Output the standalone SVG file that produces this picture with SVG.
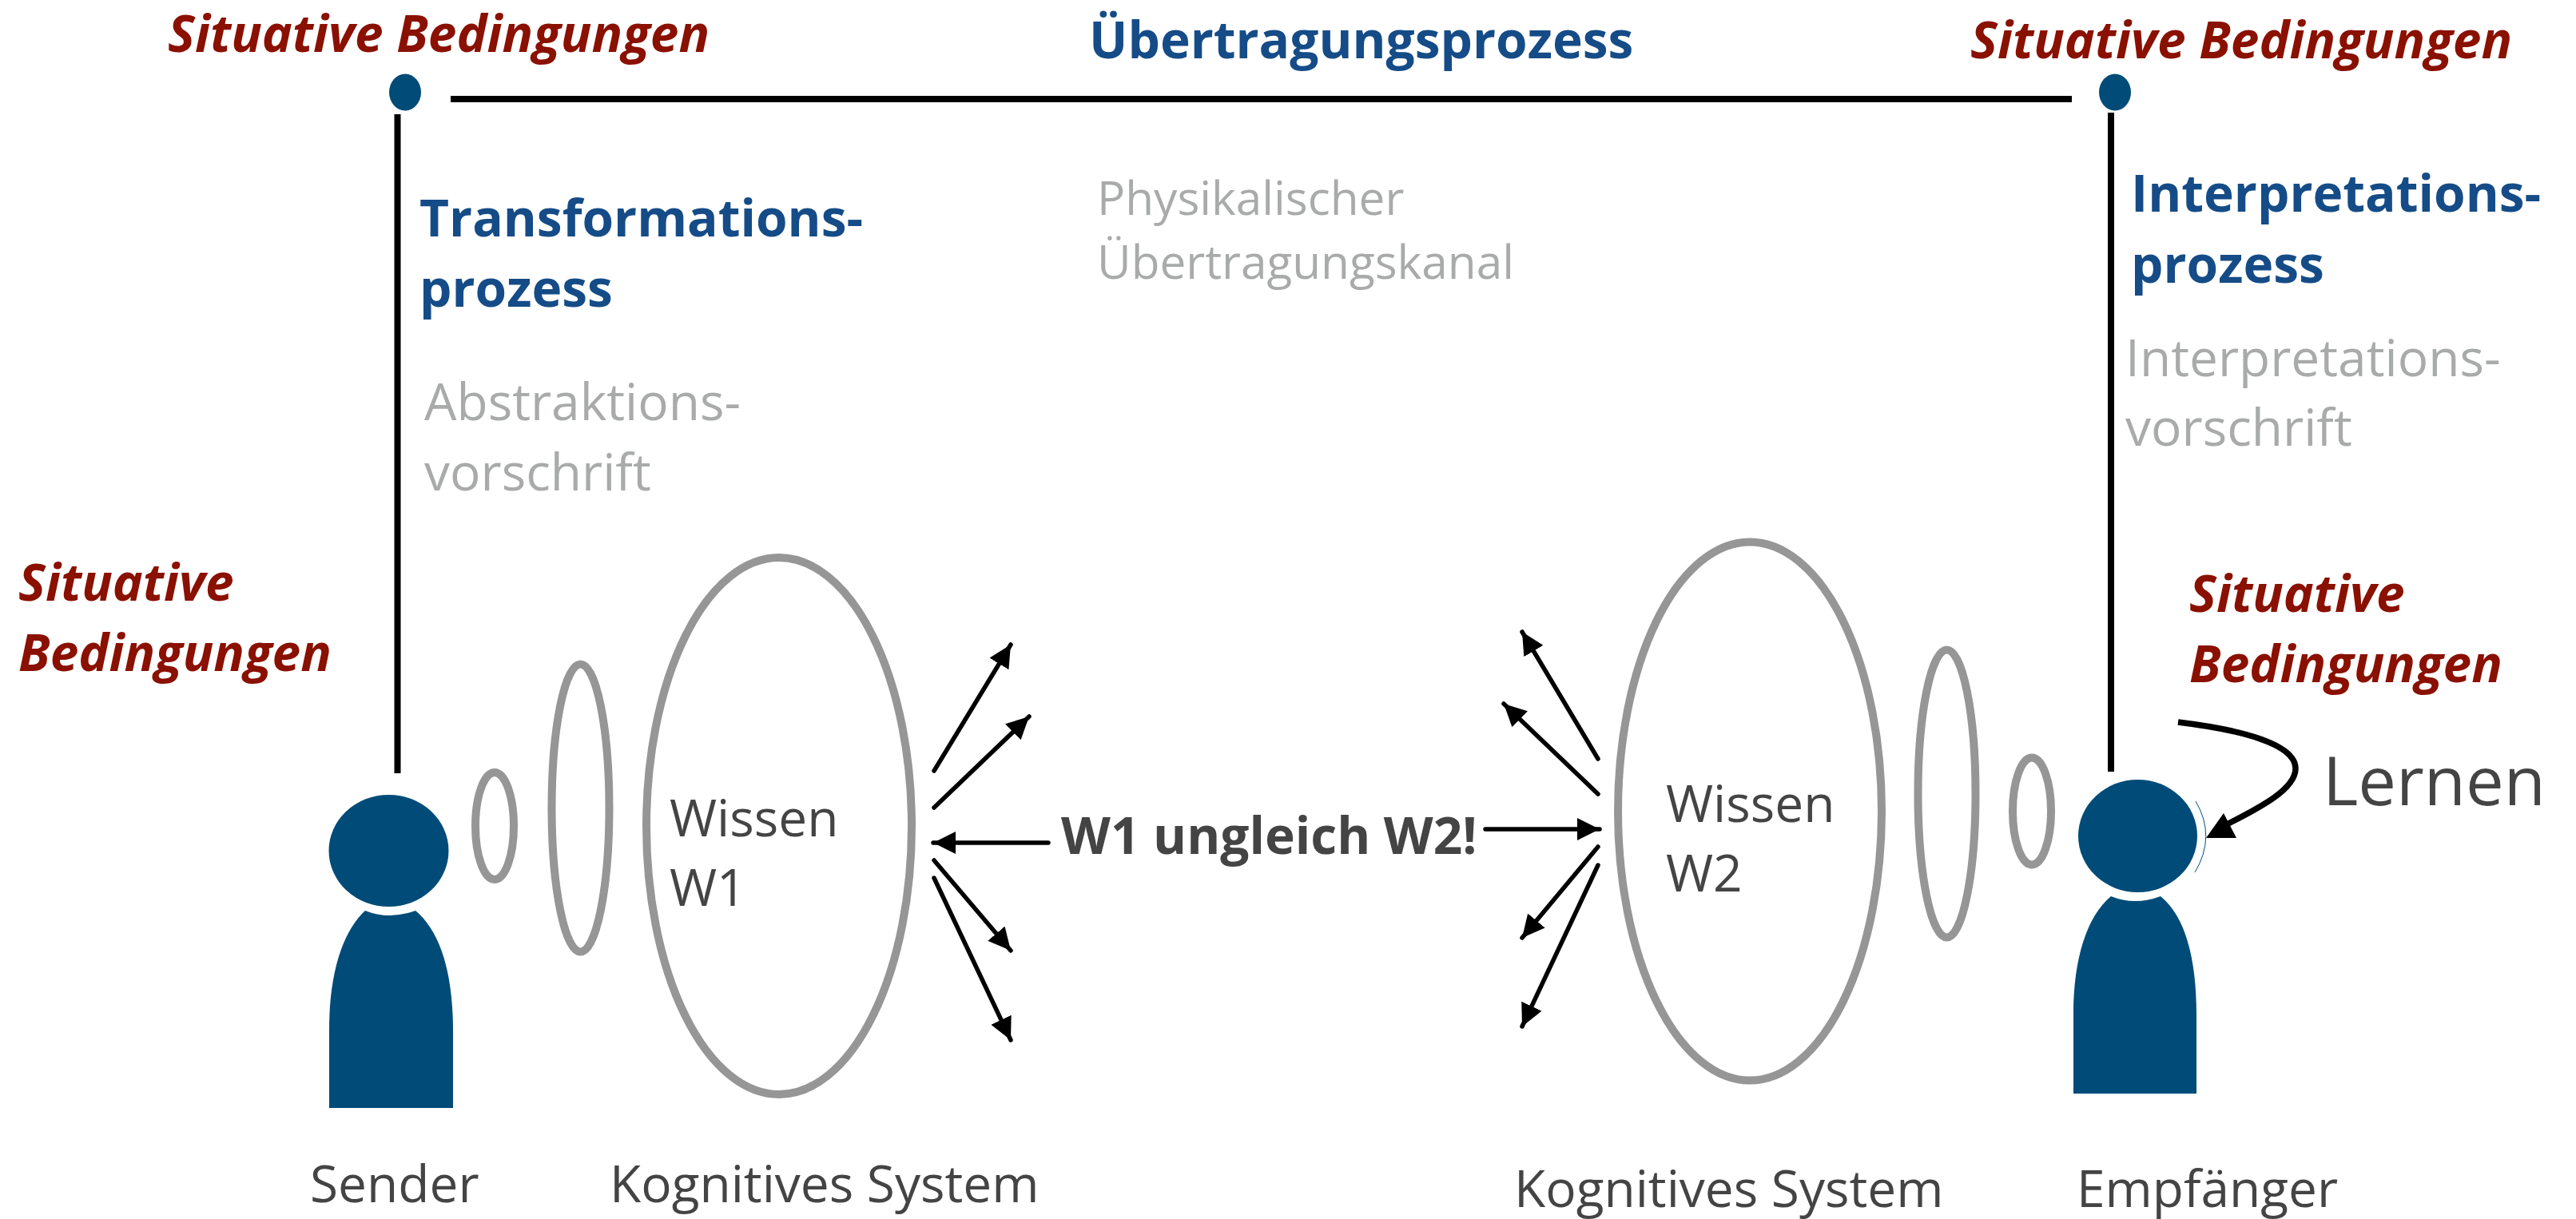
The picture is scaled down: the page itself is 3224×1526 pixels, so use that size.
<svg xmlns="http://www.w3.org/2000/svg" width="3224" height="1526" viewBox="0 0 3224 1526">
<defs>
<style>
text{font-family:"Open Sans","Noto Sans",sans-serif}
.sit{font-size:64px;font-weight:700;font-style:italic;fill:#8a1000}
.pro{font-size:64px;font-weight:700;fill:#154c87}
.sub{font-size:64px;font-weight:400;fill:#a9abab}
.sub2{font-size:58.500px;font-weight:400;fill:#a9abab}
.lab{font-size:64px;font-weight:400;fill:#444}
.ell{fill:none;stroke:#969696;stroke-width:10}
.fig{fill:#004b78}
.ln{stroke:#000;stroke-width:8;fill:none}
.ar{stroke:#000;stroke-width:5.500;stroke-linecap:round;fill:none;marker-end:url(#a)}
</style>
<marker id="a" markerUnits="userSpaceOnUse" markerWidth="30" markerHeight="30" refX="28" refY="14" orient="auto"><path d="M0,0L28,14L0,28z" fill="#000"/></marker>
</defs>
<rect width="3224" height="1526" fill="#fff"/>
<g id="connectors">
<path class="ln" d="M564,124H2593"/>
<path class="ln" d="M497.500,143V968"/>
<path class="ln" d="M2642,141V966"/>
<path class="ar" d="M1169,965L1265,807"/>
<path class="ar" d="M1169,1011L1288,897"/>
<path class="ar" d="M1312,1055H1168"/>
<path class="ar" d="M1169,1077L1265,1190"/>
<path class="ar" d="M1169,1099L1265,1302"/>
<path class="ar" d="M2000,950L1905,791"/>
<path class="ar" d="M2000,994L1882,881"/>
<path class="ar" d="M1859,1038H2002"/>
<path class="ar" d="M2000,1060L1905,1174"/>
<path class="ar" d="M2000,1083L1905,1285"/>
<path d="M2726,904C2800,913 2873,930 2873,962C2873,990 2820,1015 2785,1033" fill="none" stroke="#000" stroke-width="7.500"/>
<path d="M2761,1049L2783,1018L2799,1049Z" fill="#000"/>
</g>
<g id="dot-left"><ellipse class="fig" cx="507" cy="115.500" rx="20" ry="23"/></g>
<g id="dot-right"><ellipse class="fig" cx="2647" cy="115.500" rx="20" ry="23"/></g>
<g id="sender"><ellipse class="fig" cx="486.500" cy="1065" rx="75" ry="70"/>
<path class="fig" d="M457,1140Q487,1152 520,1140C550,1165 567,1215 567,1290V1387H412V1290C412,1215 430,1165 457,1140Z"/></g>
<g id="empfaenger"><ellipse class="fig" cx="2675.500" cy="1046.500" rx="74.500" ry="70.500"/>
<path d="M2748,1003Q2774,1047 2747,1092" fill="none" stroke="#004b78" stroke-width="1"/>
<path class="fig" d="M2642,1122Q2672,1134 2704,1122C2735,1147 2749,1200 2749,1270V1369H2595V1270C2595,1200 2612,1147 2642,1122Z"/></g>
<g id="wissen-w1"><ellipse class="ell" cx="975" cy="1034" rx="166" ry="336"/><text class="lab" x="838" y="1047">Wissen</text><text class="lab" x="838" y="1134">W1</text></g>
<g id="mid-left"><ellipse class="ell" cx="726.500" cy="1011.500" rx="36" ry="180"/></g>
<g id="small-left"><ellipse class="ell" cx="619" cy="1034" rx="24" ry="67"/></g>
<g id="wissen-w2"><ellipse class="ell" cx="2190" cy="1015.500" rx="165" ry="337"/><text class="lab" x="2085" y="1029">Wissen</text><text class="lab" x="2085" y="1116">W2</text></g>
<g id="mid-right"><ellipse class="ell" cx="2436.500" cy="993.500" rx="36" ry="180"/></g>
<g id="small-right"><ellipse class="ell" cx="2543" cy="1015.500" rx="24" ry="67"/></g>
<g id="labels">
<text class="sit" x="210" y="65">Situative Bedingungen</text>
<text class="sit" x="2466" y="73">Situative Bedingungen</text>
<text class="pro" x="1363" y="73">Übertragungsprozess</text>
<text class="pro" x="525" y="296">Transformations-</text>
<text class="pro" x="525" y="384">prozess</text>
<text class="sub" x="531" y="526">Abstraktions-</text>
<text class="sub" x="531" y="614">vorschrift</text>
<text class="sub2" x="1373" y="269">Physikalischer</text>
<text class="sub2" x="1373" y="349">Übertragungskanal</text>
<text class="pro" x="2667" y="265">Interpretations-</text>
<text class="pro" x="2667" y="354">prozess</text>
<text class="sub" x="2660" y="471">Interpretations-</text>
<text class="sub" x="2660" y="558">vorschrift</text>
<text class="sit" x="23" y="752">Situative</text>
<text class="sit" x="23" y="840">Bedingungen</text>
<text class="sit" x="2740" y="766">Situative</text>
<text class="sit" x="2740" y="854">Bedingungen</text>
<text class="lab" x="2907" y="1008" style="font-size:85px">Lernen</text>
<text x="1328" y="1069" style="font-size:64px;font-weight:700;fill:#444">W1 ungleich W2!</text>
<text class="lab" x="388" y="1505">Sender</text>
<text class="lab" x="763" y="1505">Kognitives System</text>
<text class="lab" x="1895" y="1511">Kognitives System</text>
<text class="lab" x="2599" y="1511">Empfänger</text>
</g>
</svg>
